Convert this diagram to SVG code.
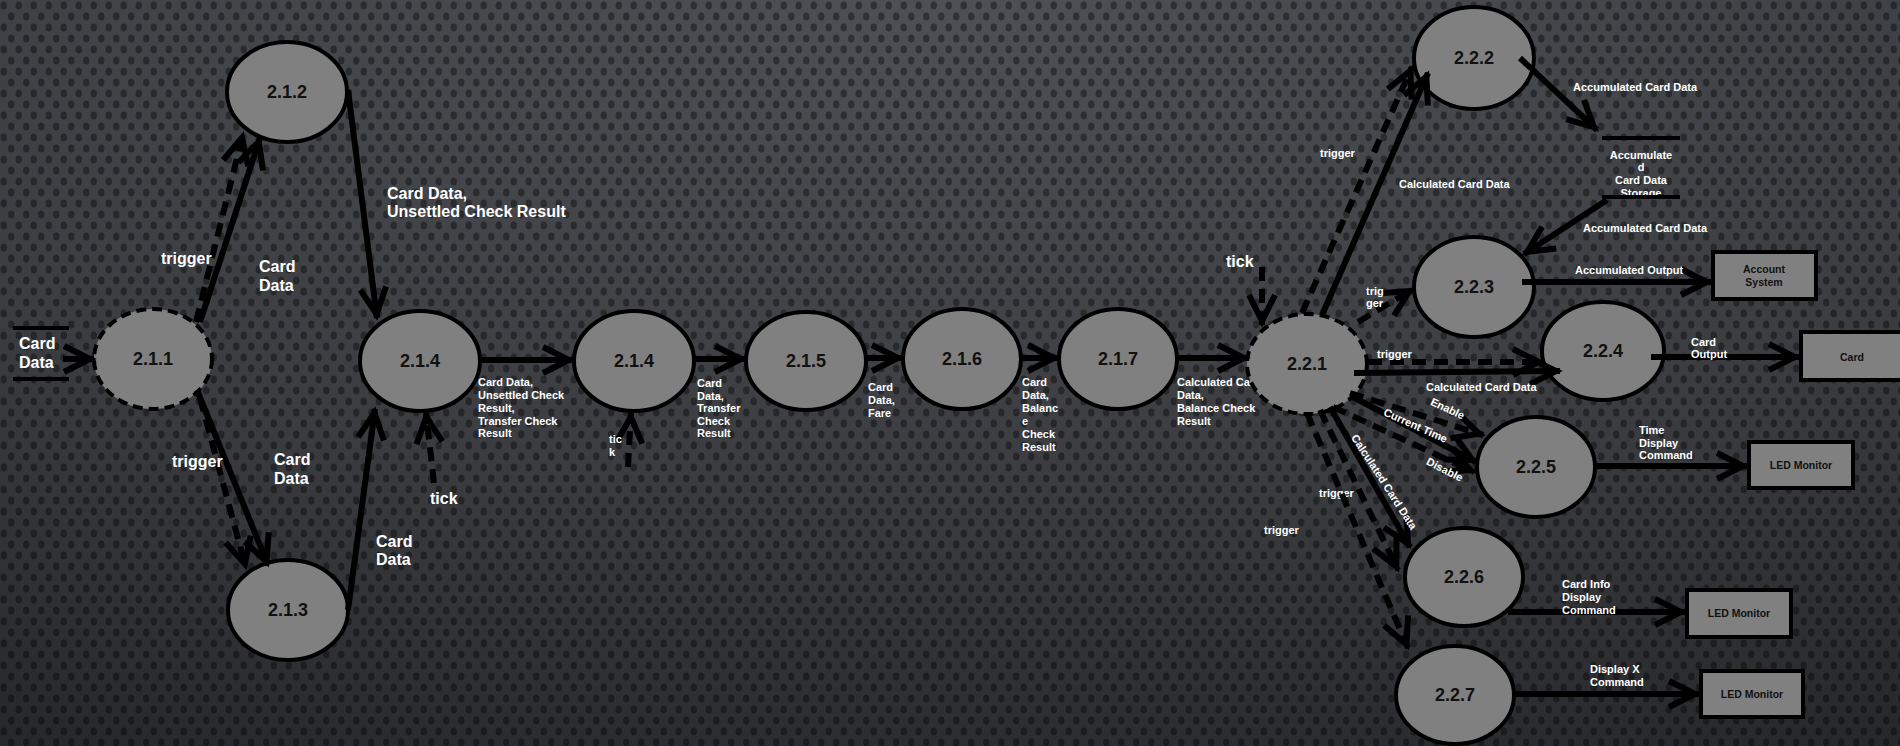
<svg xmlns="http://www.w3.org/2000/svg" width="1900" height="746" viewBox="0 0 1900 746">
<style>
.node{fill:#808080;stroke:#000;stroke-width:4}
.dn{stroke-dasharray:10 6}
.box{fill:#808080;stroke:#000;stroke-width:4}
.nl{font-family:"Liberation Sans",Arial,sans-serif;font-weight:bold;font-size:18px;fill:#111;text-anchor:middle}
.bl{font-family:"Liberation Sans",Arial,sans-serif;font-weight:bold;font-size:10.5px;fill:#111;text-anchor:middle}
.L{font-family:"Liberation Sans",Arial,sans-serif;font-weight:bold;font-size:16px;fill:#fff}
.S{font-family:"Liberation Sans",Arial,sans-serif;font-weight:bold;font-size:11px;fill:#fff}
.c{fill:none;stroke:#000;stroke-width:6;marker-end:url(#ah)}
.d{stroke-dasharray:14 8}
.st{stroke:#000;stroke-width:4}
</style>
<defs>
<radialGradient id="bg" cx="0.5" cy="0" r="1.1" gradientUnits="objectBoundingBox">
<stop offset="0" stop-color="#4d5054"/>
<stop offset="0.6" stop-color="#3a3c40"/>
<stop offset="1" stop-color="#26282a"/>
</radialGradient>
<pattern id="dots" width="15" height="22" patternUnits="userSpaceOnUse">
<ellipse cx="3.75" cy="5.5" rx="3.2" ry="4" fill="#000" fill-opacity="0.38"/>
<ellipse cx="11.25" cy="16.5" rx="3.2" ry="4" fill="#000" fill-opacity="0.38"/>
</pattern>
<marker id="ah" markerUnits="userSpaceOnUse" viewBox="-34 -18 40 36" refX="0" refY="0" markerWidth="40" markerHeight="36" orient="auto" overflow="visible">
<path d="M-30,-13 L-4,0 L-30,13" fill="none" stroke="#000" stroke-width="6"/>
</marker>
</defs>
<rect width="1900" height="746" fill="url(#bg)"/>
<rect width="1900" height="746" fill="url(#dots)"/>

<g id="labels-behind">
<text class="S" x="1177"><tspan x="1177" y="386">Calculated Card</tspan><tspan x="1177" y="399">Data,</tspan><tspan x="1177" y="412">Balance Check</tspan><tspan x="1177" y="425">Result</tspan></text>
<text class="S" x="1319" y="497">trigger</text>
<text class="S" x="1641" text-anchor="middle"><tspan x="1641" y="159">Accumulate</tspan><tspan x="1641" y="171">d</tspan><tspan x="1641" y="184">Card Data</tspan><tspan x="1641" y="197">Storage</tspan></text>
</g>

<g id="store-card-data">
<line class="st" x1="13" y1="328" x2="69" y2="328"/>
<line class="st" x1="13" y1="379" x2="69" y2="379"/>
</g>
<g id="store-accumulated">
<line class="st" x1="1602" y1="138" x2="1680" y2="138"/>
<line class="st" x1="1602" y1="197" x2="1680" y2="197"/>
</g>

<g id="n211"><ellipse class="node dn" cx="153" cy="359" rx="59" ry="50"/><text class="nl" x="153" y="365">2.1.1</text></g>
<g id="n212"><ellipse class="node" cx="287" cy="92" rx="60" ry="50"/><text class="nl" x="287" y="98">2.1.2</text></g>
<g id="n213"><ellipse class="node" cx="288" cy="610" rx="60" ry="50"/><text class="nl" x="288" y="616">2.1.3</text></g>
<g id="n214a"><ellipse class="node" cx="420" cy="361" rx="60" ry="50"/><text class="nl" x="420" y="367">2.1.4</text></g>
<g id="n214b"><ellipse class="node" cx="634" cy="361" rx="60" ry="50"/><text class="nl" x="634" y="367">2.1.4</text></g>
<g id="n215"><ellipse class="node" cx="806" cy="361" rx="60" ry="49"/><text class="nl" x="806" y="367">2.1.5</text></g>
<g id="n216"><ellipse class="node" cx="962" cy="359" rx="59" ry="50"/><text class="nl" x="962" y="365">2.1.6</text></g>
<g id="n217"><ellipse class="node" cx="1118" cy="359" rx="59" ry="50"/><text class="nl" x="1118" y="365">2.1.7</text></g>
<g id="n221"><ellipse class="node dn" cx="1307" cy="364" rx="60" ry="50"/><text class="nl" x="1307" y="370">2.2.1</text></g>
<g id="n222"><ellipse class="node" cx="1474" cy="58" rx="60" ry="51"/><text class="nl" x="1474" y="64">2.2.2</text></g>
<g id="n223"><ellipse class="node" cx="1474" cy="287" rx="60" ry="50"/><text class="nl" x="1474" y="293">2.2.3</text></g>
<g id="n224"><ellipse class="node" cx="1603" cy="351" rx="61" ry="49"/><text class="nl" x="1603" y="357">2.2.4</text></g>
<g id="n225"><ellipse class="node" cx="1536" cy="467" rx="59" ry="50"/><text class="nl" x="1536" y="473">2.2.5</text></g>
<g id="n226"><ellipse class="node" cx="1464" cy="577" rx="59" ry="49"/><text class="nl" x="1464" y="583">2.2.6</text></g>
<g id="n227"><ellipse class="node" cx="1455" cy="695" rx="59" ry="49"/><text class="nl" x="1455" y="701">2.2.7</text></g>

<g id="box-account"><rect class="box" x="1713" y="252" width="103" height="47"/><text class="bl" x="1764" y="273">Account</text><text class="bl" x="1764" y="286">System</text></g>
<g id="box-card"><rect class="box" x="1801" y="332" width="105" height="48"/><text class="bl" x="1852" y="361">Card</text></g>
<g id="box-led1"><rect class="box" x="1749" y="442" width="104" height="46"/><text class="bl" x="1801" y="469">LED Monitor</text></g>
<g id="box-led2"><rect class="box" x="1687" y="590" width="104" height="47"/><text class="bl" x="1739" y="617">LED Monitor</text></g>
<g id="box-led3"><rect class="box" x="1701" y="671" width="102" height="46"/><text class="bl" x="1752" y="698">LED Monitor</text></g>

<g id="connectors">
<line class="c" x1="63" y1="359" x2="94" y2="359"/>
<line class="c d" x1="196" y1="322" x2="243" y2="134"/>
<line class="c" x1="200" y1="322" x2="260" y2="138"/>
<line class="c" x1="197" y1="390" x2="268" y2="565"/>
<line class="c d" x1="200" y1="398" x2="246" y2="568"/>
<line class="c" x1="348" y1="90" x2="377" y2="318"/>
<line class="c" x1="348" y1="610" x2="375" y2="409"/>
<line class="c d" x1="434" y1="483" x2="426" y2="413"/>
<line class="c" x1="480" y1="360" x2="573" y2="360"/>
<line class="c d" x1="628" y1="467" x2="631" y2="413"/>
<line class="c" x1="694" y1="359" x2="745" y2="359"/>
<line class="c" x1="866" y1="358" x2="902" y2="358"/>
<line class="c" x1="1021" y1="358" x2="1058" y2="358"/>
<line class="c" x1="1177" y1="358" x2="1248" y2="358"/>
<line class="c d" x1="1262" y1="267" x2="1262" y2="325"/>
<line class="c d" x1="1302" y1="313" x2="1412" y2="67"/>
<line class="c" x1="1322" y1="315" x2="1428" y2="73"/>
<line class="c" x1="1520" y1="58" x2="1597" y2="130"/>
<line class="c" x1="1607" y1="200" x2="1524" y2="254"/>
<line class="c" x1="1522" y1="282" x2="1711" y2="282"/>
<line class="c d" x1="1358" y1="322" x2="1413" y2="289"/>
<line class="c d" x1="1368" y1="362" x2="1543" y2="362"/>
<line class="c" x1="1354" y1="373" x2="1560" y2="371"/>
<line class="c" x1="1651" y1="357" x2="1799" y2="357"/>
<line class="c d" x1="1350" y1="393" x2="1483" y2="435"/>
<line class="c" x1="1353" y1="397" x2="1476" y2="462"/>
<line class="c d" x1="1333" y1="407" x2="1474" y2="472"/>
<line class="c" x1="1595" y1="466" x2="1747" y2="466"/>
<line class="c" x1="1330" y1="407" x2="1410" y2="547"/>
<line class="c d" x1="1320" y1="410" x2="1398" y2="570"/>
<line class="c d" x1="1307" y1="413" x2="1408" y2="648"/>
<line class="c" x1="1508" y1="612" x2="1685" y2="612"/>
<line class="c" x1="1515" y1="694" x2="1699" y2="694"/>
</g>

<g id="labels">
<text class="L" x="19" y="349">Card</text>
<text class="L" x="19" y="368">Data</text>
<text class="L" x="161" y="264">trigger</text>
<text class="L" x="259" y="272">Card</text>
<text class="L" x="259" y="291">Data</text>
<text class="L" x="387" y="199">Card Data,</text>
<text class="L" x="387" y="217">Unsettled Check Result</text>
<text class="L" x="172" y="467">trigger</text>
<text class="L" x="274" y="465">Card</text>
<text class="L" x="274" y="484">Data</text>
<text class="L" x="376" y="547">Card</text>
<text class="L" x="376" y="565">Data</text>
<text class="L" x="430" y="504">tick</text>
<text class="S" x="478"><tspan x="478" y="386">Card Data,</tspan><tspan x="478" y="399">Unsettled Check</tspan><tspan x="478" y="412">Result,</tspan><tspan x="478" y="425">Transfer Check</tspan><tspan x="478" y="437">Result</tspan></text>
<text class="S" x="697"><tspan x="697" y="387">Card</tspan><tspan x="697" y="400">Data,</tspan><tspan x="697" y="412">Transfer</tspan><tspan x="697" y="425">Check</tspan><tspan x="697" y="437">Result</tspan></text>
<text class="S" x="609"><tspan x="609" y="443">tic</tspan><tspan x="609" y="456">k</tspan></text>
<text class="S" x="868"><tspan x="868" y="391">Card</tspan><tspan x="868" y="404">Data,</tspan><tspan x="868" y="417">Fare</tspan></text>
<text class="S" x="1022"><tspan x="1022" y="386">Card</tspan><tspan x="1022" y="399">Data,</tspan><tspan x="1022" y="412">Balanc</tspan><tspan x="1022" y="425">e</tspan><tspan x="1022" y="438">Check</tspan><tspan x="1022" y="451">Result</tspan></text>
<text class="L" x="1226" y="267">tick</text>
<text class="S" x="1320" y="157">trigger</text>
<text class="S" x="1399" y="188">Calculated Card Data</text>
<text class="S" x="1573" y="91">Accumulated Card Data</text>
<text class="S" x="1583" y="232">Accumulated Card Data</text>
<text class="S" x="1575" y="274">Accumulated Output</text>
<text class="S" x="1366"><tspan x="1366" y="295">trig</tspan><tspan x="1366" y="307">ger</tspan></text>
<text class="S" x="1377" y="358">trigger</text>
<text class="S" x="1426" y="391">Calculated Card Data</text>
<text class="S" x="1691"><tspan x="1691" y="346">Card</tspan><tspan x="1691" y="358">Output</tspan></text>
<text class="S" x="1639"><tspan x="1639" y="434">Time</tspan><tspan x="1639" y="447">Display</tspan><tspan x="1639" y="459">Command</tspan></text>
<text class="S" text-anchor="middle" transform="translate(1446,412) rotate(25)">Enable</text>
<text class="S" text-anchor="middle" transform="translate(1414,429) rotate(24)">Current Time</text>
<text class="S" text-anchor="middle" transform="translate(1443,473) rotate(27)">Disable</text>
<text class="S" text-anchor="middle" transform="translate(1381,484) rotate(57)">Calculated Card Data</text>
<text class="S" x="1264" y="534">trigger</text>
<text class="S" x="1562"><tspan x="1562" y="588">Card Info</tspan><tspan x="1562" y="601">Display</tspan><tspan x="1562" y="614">Command</tspan></text>
<text class="S" x="1590"><tspan x="1590" y="673">Display X</tspan><tspan x="1590" y="686">Command</tspan></text>
</g>
</svg>
